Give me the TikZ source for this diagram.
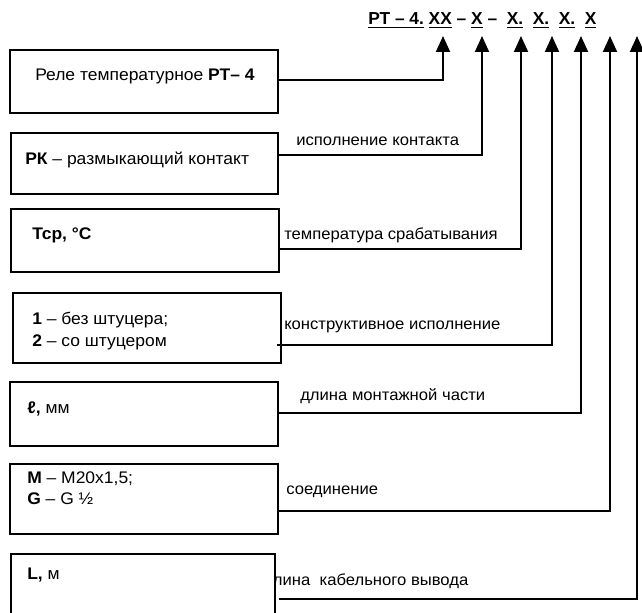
\documentclass[tikz,border=0pt]{standalone}
\usepackage{fontspec}
\setmainfont[FakeStretch=1.04]{Liberation Sans}
\newfontfamily\titlefont{Liberation Sans}
\usetikzlibrary{arrows.meta}
\begin{document}
\begin{tikzpicture}[x=0.75pt,y=-0.75pt,
  box/.style={draw, line width=1.5pt, fill=white, anchor=north west, inner sep=0pt},
  arr/.style={line width=1.5pt, -{Triangle[length=12pt,width=10.5pt]}},
  txt/.style={anchor=base west, inner sep=0pt, font=\fontsize{12.6}{15}\selectfont},
  lbl/.style={anchor=base west, inner sep=0pt, font=\fontsize{12}{14}\selectfont},
  ttl/.style={anchor=base west, inner sep=0pt, font=\titlefont\bfseries\fontsize{13}{15}\selectfont}]
\useasboundingbox (0,0) rectangle (642,613);

% title
\node[ttl] (title) at (368,25) {\underline{РТ – 4.} \underline{XX} – \underline{X} – \ \underline{X.} \ \underline{X.} \ \underline{X.} \ \underline{X}};

% arrow tips
\coordinate (a1) at (443,36);
\coordinate (a2) at (482,36);
\coordinate (a3) at (521,36);
\coordinate (a4) at (552,36);
\coordinate (a5) at (581,36);
\coordinate (a6) at (610,36);
\coordinate (a7) at (637,36);

% label 7 (partly hidden by box 7)
\node[lbl] (l7) at (263,585) {длина \ кабельного вывода};

% boxes
\node[box, minimum width=268*0.75pt, minimum height=63*0.75pt] (b1) at (9,49) {};
\node[box, minimum width=267*0.75pt, minimum height=61*0.75pt] (b2) at (10,132) {};
\node[box, minimum width=268*0.75pt, minimum height=63*0.75pt] (b3) at (10,208) {};
\node[box, minimum width=268*0.75pt, minimum height=70*0.75pt] (b4) at (12,292) {};
\node[box, minimum width=268*0.75pt, minimum height=64*0.75pt] (b5) at (9,381) {};
\node[box, minimum width=268*0.75pt, minimum height=70*0.75pt] (b6) at (9,463) {};
\node[box, minimum width=264*0.75pt, minimum height=80*0.75pt] (b7) at (10,553) {};

% box texts
\node[txt] (t1) at (35,81) {Реле температурное \textbf{РТ– 4}};
\node[txt] (t2) at (25,165) {\textbf{РК} – размыкающий контакт};
\node[txt] (t3) at (32,239) {\textbf{Тср, °С}};
\node[txt] (t4a) at (32,324) {\textbf{1} – без штуцера;};
\node[txt] (t4b) at (32,346) {\textbf{2} – со штуцером};
\node[txt] (t5) at (27,413) {\textbf{ℓ,} мм};
\node[txt] (t6a) at (27,483) {\textbf{M} – M20x1,5;};
\node[txt] (t6b) at (27,504) {\textbf{G} – G ½};
\node[txt] (t7) at (27,579) {\textbf{L,} м};

% labels
\node[lbl] (l2) at (296,146) {исполнение контакта};
\node[lbl] (l3) at (284,239) {температура срабатывания};
\node[lbl] (l4) at (284,329) {конструктивное исполнение};
\node[lbl] (l5) at (300,400) {длина монтажной части};
\node[lbl] (l6) at (286,494) {соединение};

% connector start points
\coordinate (h1) at (277,80);
\coordinate (h2) at (277,155);
\coordinate (h3) at (278,249);
\coordinate (h4) at (277,345);
\coordinate (h5) at (277,413);
\coordinate (h6) at (277,511);
\coordinate (h7) at (279,599);

\draw[arr] (h1) -| (a1);
\draw[arr] (h2) -| (a2);
\draw[arr] (h3) -| (a3);
\draw[arr] (h4) -| (a4);
\draw[arr] (h5) -| (a5);
\draw[arr] (h6) -| (a6);
\draw[arr] (h7) -| (a7);
\end{tikzpicture}
\end{document}
